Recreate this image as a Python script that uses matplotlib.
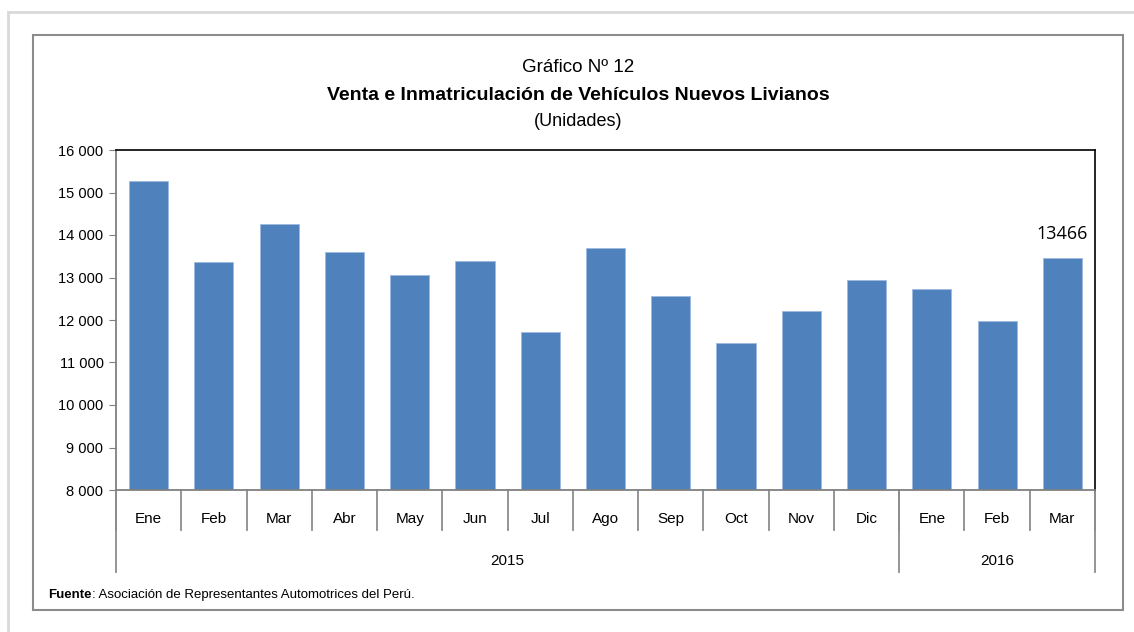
import numpy as np
import matplotlib.pyplot as plt
from matplotlib import patches, transforms

plt.rcParams['font.family'] = ['Liberation Sans Narrow', 'Liberation Sans', 'DejaVu Sans']

# Datos (unidades)
meses = ["Ene", "Feb", "Mar", "Abr", "May", "Jun", "Jul", "Ago", "Sep", "Oct",
         "Nov", "Dic", "Ene", "Feb", "Mar"]
ventas = [15260, 13370, 14270, 13590, 13060, 13400, 11720, 13690, 12560,
          11450, 12210, 12930, 12720, 11980, 13466]
anios = ["2015", "2016"]
meses_por_anio = [12, 3]
yticks = [8000, 9000, 10000, 11000, 12000, 13000, 14000, 15000, 16000]

W, H = 1134, 632
fig = plt.figure(figsize=(W / 100, H / 100), dpi=100)

# marcos exteriores
fig.patches.append(patches.Rectangle((8 / W, -0.1), 1.2, 1 - 12 / H + 0.1,
                                     transform=fig.transFigure, fill=False,
                                     edgecolor="#d9d9d9", lw=2))
fig.patches.append(patches.Rectangle((33 / W, 1 - 610 / H), (1123 - 33) / W,
                                     (610 - 35) / H, transform=fig.transFigure,
                                     fill=False, edgecolor="#8c8c8c", lw=1.5))

x0, x1, y0, y1 = 116, 1095, 150, 490
ax = fig.add_axes([x0 / W, 1 - y1 / H, (x1 - x0) / W, (y1 - y0) / H])

x = np.arange(len(meses))
ax.bar(x, ventas, width=0.6, color="#4f81bd", edgecolor="#9dbbe0", lw=0.6)
ax.set_xlim(-0.5, len(meses) - 0.5)
ax.set_ylim(8000, 16000)
ax.set_yticks(yticks)
ax.set_yticklabels([f"{v:,}".replace(",", " ") for v in yticks], fontsize=10.5)
ax.tick_params(axis="y", length=5, color="#808080", pad=4)
ax.set_xticks([])
for s in ["left", "bottom"]:
    ax.spines[s].set_color("#808080")
    ax.spines[s].set_linewidth(1.3)
ax.spines["top"].set_linewidth(1.2)
ax.spines["right"].set_linewidth(1.2)

ax.text(x[-1], ventas[-1] + 350, f"{ventas[-1]}", ha="center", va="bottom",
        fontsize=13, family="Open Sans")

# eje de categorias agrupado
trans = transforms.blended_transform_factory(ax.transData, ax.transAxes)
hy = y1 - y0
for i in range(len(meses) + 1):
    ax.plot([i - 0.5, i - 0.5], [0, -40 / hy], transform=trans, color="#8c8c8c",
            lw=1.3, clip_on=False)
for i, m in enumerate(meses):
    ax.text(i, -33 / hy, m, transform=trans, ha="center", va="baseline", fontsize=11)

pos = -0.5
ax.plot([pos, pos], [0, -82 / hy], transform=trans, color="#8c8c8c", lw=1.3, clip_on=False)
for a, n in zip(anios, meses_por_anio):
    ax.text(pos + n / 2, -75 / hy, a, transform=trans, ha="center", va="baseline",
            fontsize=11)
    pos += n
    ax.plot([pos, pos], [0, -82 / hy], transform=trans, color="#8c8c8c", lw=1.3,
            clip_on=False)

# titulos
fig.text(578 / W, 1 - 68 / H, "Gráfico Nº 12", ha="center", va="center", fontsize=13.5)
fig.text(578 / W, 1 - 95 / H, "Venta e Inmatriculación de Vehículos Nuevos Livianos",
         ha="center", va="center", fontsize=14, fontweight="bold")
fig.text(578 / W, 1 - 122 / H, "(Unidades)", ha="center", va="center", fontsize=13)

# fuente
f1 = fig.text(48 / W, 1 - 598 / H, "Fuente", ha="left", va="baseline", fontsize=9.5,
              fontweight="bold")
fig.canvas.draw()
bb = f1.get_window_extent()
fig.text(bb.x1 / W, 1 - 598 / H, ": Asociación de Representantes Automotrices del Perú.",
         ha="left", va="baseline", fontsize=9.5)

fig.savefig("out.png", dpi=100)
